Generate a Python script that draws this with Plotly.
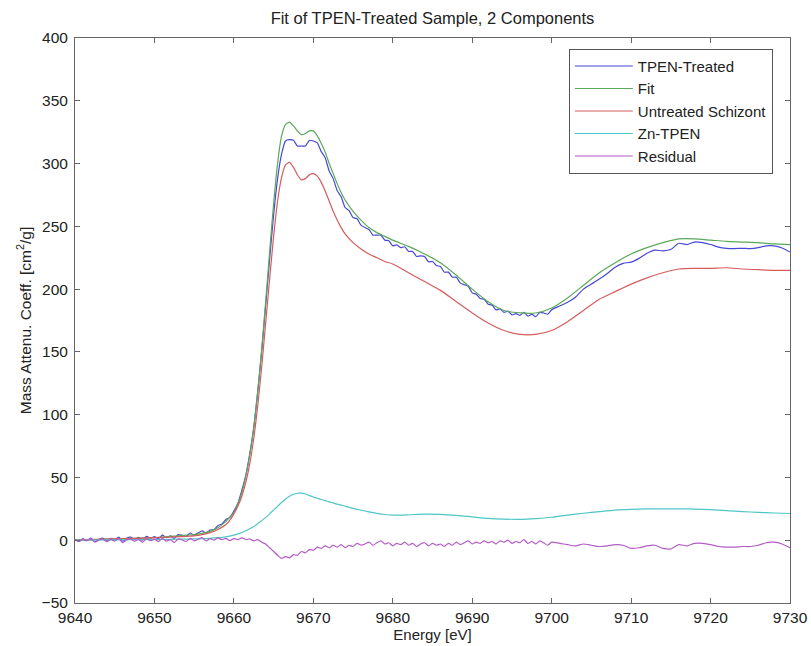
import plotly.graph_objects as go

# ---- Smooth series grid (eV) ----
E_smooth = [9640, 9645, 9650, 9652, 9654, 9655, 9656, 9657, 9658, 9659,
            9659.5, 9660, 9660.5, 9661, 9661.5, 9662, 9662.5, 9663, 9663.5, 9664,
            9664.5, 9665, 9665.5, 9666, 9666.5, 9667, 9667.5, 9668, 9668.5, 9669,
            9669.5, 9670, 9670.5, 9671, 9671.5, 9672, 9672.5, 9673, 9673.5, 9674,
            9675, 9676, 9677, 9678, 9679, 9680, 9682, 9684, 9686, 9688,
            9690, 9692, 9694, 9696, 9698, 9700, 9702, 9704, 9706, 9708,
            9710, 9712, 9714, 9716, 9718, 9720, 9722, 9724, 9726, 9728,
            9730]

untreated = [0, 1, 2, 2.5, 3, 3.5, 4.5, 6, 8.5, 12.5,
             16, 21, 27, 35, 46, 61, 81, 107, 138, 173,
             208, 242, 270, 289, 299, 301, 297, 291, 287, 288,
             291, 292, 290, 285, 278, 270, 262, 255, 249, 244,
             237, 232, 228, 225, 222, 220, 213, 206, 199, 190,
             181, 173, 167, 164, 164, 167, 174, 183, 192, 198,
             204, 209, 213, 216, 216.5, 216.5, 217, 216, 215.5, 215,
             215]

zn_tpen = [0, 0.3, 0.5, 0.7, 0.9, 1, 1.2, 1.5, 2, 2.7,
           3.2, 4, 5, 6.2, 7.6, 9.2, 11, 13.2, 15.6, 18.2,
           21, 24, 27, 30, 32.8, 35, 36.6, 37.4, 37.5, 36.8,
           35.6, 34.4, 33.4, 32.4, 31.5, 30.6, 29.7, 28.8, 28, 27.1,
           25.4, 24, 22.6, 21.4, 20.5, 20, 20.3, 20.8, 20.6, 19.8,
           18.6, 17.4, 16.8, 16.6, 17.2, 18.3, 20, 21.5, 22.8, 24,
           24.6, 24.9, 25, 25, 24.8, 24.3, 23.6, 22.8, 22.2, 21.7,
           21.3]

fit = [0, 1, 2, 3, 4, 4.5, 5.5, 7, 10, 15,
       18.5, 22, 29, 38, 51, 68, 90, 118, 152, 190,
       230, 268, 300, 322, 331, 333, 330, 326, 323, 324,
       326, 326, 322, 316, 309, 300, 292, 284, 277, 271,
       262, 255, 249, 245, 242, 239, 234, 228, 221, 211,
       200, 190, 183, 181, 181, 185, 193, 203, 213, 221,
       228, 233, 237, 240, 240, 239, 238, 237.5, 237, 236,
       235.5]

# ---- Noisy series grid (eV) ----
E_noisy = [9640, 9640.5, 9641, 9641.5, 9642, 9642.5, 9643, 9643.5, 9644, 9644.5,
           9645, 9645.5, 9646, 9646.5, 9647, 9647.5, 9648, 9648.5, 9649, 9649.5,
           9650, 9650.5, 9651, 9651.5, 9652, 9652.5, 9653, 9653.5, 9654, 9654.5,
           9655, 9655.5, 9656, 9656.5, 9657, 9657.5, 9658, 9658.5, 9659, 9659.5,
           9660, 9660.5, 9661, 9661.5, 9662, 9662.5, 9663, 9663.5, 9664, 9664.5,
           9665, 9665.5, 9666, 9666.5, 9667, 9667.5, 9668, 9668.5, 9669, 9669.5,
           9670, 9670.5, 9671, 9671.5, 9672, 9672.5, 9673, 9673.5, 9674, 9674.5,
           9675, 9675.5, 9676, 9676.5, 9677, 9677.5, 9678, 9678.5, 9679, 9679.5,
           9680, 9680.5, 9681, 9681.5, 9682, 9682.5, 9683, 9683.5, 9684, 9684.5,
           9685, 9685.5, 9686, 9686.5, 9687, 9687.5, 9688, 9688.5, 9689, 9689.5,
           9690, 9690.5, 9691, 9691.5, 9692, 9692.5, 9693, 9693.5, 9694, 9694.5,
           9695, 9695.5, 9696, 9696.5, 9697, 9697.5, 9698, 9698.5, 9699, 9699.5,
           9700,
           9701, 9702, 9703, 9704, 9705, 9706, 9707, 9708, 9709, 9710,
           9711, 9712, 9713, 9714, 9715, 9716, 9717, 9718, 9719, 9720,
           9721, 9722, 9723, 9724, 9725, 9726, 9727, 9728, 9729, 9730]

tpen_treated = [0.5, -0.9, 1.0, -0.2, 1.6, -1.0, 0.6, 1.7, -0.4, 1.5,
                0.2, 2.5, -0.8, 1.6, 2.5, 0.6, 2.3, 0.1, 3.1, 1.5,
                2.9, 1.15, 4.1, 2.05, 3.4, 1.45, 4.5, 3.95, 3.0, 5.75,
                4.0, 5.8, 7.5, 5.6, 8.2, 8.5, 11.8, 12.9, 16.5, 18.2,
                23.2, 29.5, 39.8, 51.6, 69, 89.5, 118.5, 150.5, 187, 224,
                259, 288, 307.5, 318, 319, 318.5, 314, 314, 314, 318.5,
                318, 316.5, 309.5, 304.5, 294, 288, 278.5, 273.5, 265, 262.5,
                257, 256, 251, 249, 247.5, 243, 243, 243, 239, 238.5,
                234.5, 235.25, 233, 233.75, 230, 230, 226, 226.5, 226, 221.75,
                222, 218.75, 218, 213.5, 213.5, 209.5, 209.5, 204.75, 203.5, 202.25,
                197, 196, 192.5, 192, 188, 187.25, 183.5, 184.25, 181.5, 182.5,
                179.5, 180.5, 179, 181.5, 178.5, 180, 178, 181.5, 181, 180,
                183.5,
                186.5, 189.5, 193.5, 200, 204, 208, 212.5, 217.5, 220.5, 221.5,
                224.5, 228.5, 231, 230.5, 231.5, 236.5, 235.5, 237.5, 237, 235.5,
                233.5, 232.5, 232.25, 232.5, 232.25, 233, 234.5, 234.5, 232.75, 229.5]

residual = [0.5, -1, 0.8, -0.5, 1.2, -1.5, 0, 1, -1.2, 0.6,
            -0.8, 1.4, -2, 0.3, 1.1, -0.9, 0.7, -1.6, 1.3, -0.4,
            0.9, -1.1, 1.6, -0.7, 0.4, -1.8, 1, 0.2, -1, 1.5,
            -0.5, 0.8, 2, -0.6, 1.2, 0, 1.8, 0.4, 1.5, -0.3,
            1.2, 0.5, 1.8, 0.6, 1, -0.5, 0.5, -1.5, -3, -6,
            -9, -12, -14.5, -13, -14, -11.5, -12, -9, -10, -7.5,
            -8, -5.5, -6.5, -4.5, -6, -4, -5.5, -3.5, -6, -4,
            -5, -2.5, -4, -3, -1.5, -4, -2, -0.5, -3, -2,
            -4.5, -2.5, -3.5, -1.5, -4, -2.5, -5, -3, -2, -4.5,
            -2.5, -4, -3, -5, -2.5, -4, -1.5, -3.5, -2, -0.5,
            -3, -1.5, -2.5, -0.5, -2, -1, -3, -0.5, -1.5, 0,
            -2.5, -1, -2, 0.5, -2.5, -1, -3, -0.5, -2, -4,
            -1.5,
            -2.5, -3.5, -4.5, -3, -4, -5, -4.5, -3.5, -4, -6.5,
            -6, -4.5, -4, -6.5, -7, -3.5, -4.5, -2.5, -2.5, -3.5,
            -5, -5.5, -5.5, -5, -5, -4, -2, -1.5, -3, -6]

x_ticks = [9640, 9650, 9660, 9670, 9680, 9690, 9700, 9710, 9720, 9730]
y_ticks = [-50, 0, 50, 100, 150, 200, 250, 300, 350, 400]

series = [
    ("TPEN-Treated", E_noisy, tpen_treated, "#4848d6"),
    ("Fit", E_smooth, fit, "#5aa85a"),
    ("Untreated Schizont", E_smooth, untreated, "#d65c5c"),
    ("Zn-TPEN", E_smooth, zn_tpen, "#4ec6c6"),
    ("Residual", E_noisy, residual, "#b45cc6"),
]

fig = go.Figure()
for name, xs, ys, col in series:
    fig.add_trace(go.Scatter(x=xs, y=ys, mode="lines", name=name,
                             line=dict(color=col, width=1.2, shape="spline", smoothing=0.6)))

axis_common = dict(showline=True, linecolor="#666666", linewidth=1, mirror="ticks",
                   ticks="inside", ticklen=5, tickcolor="#666666", showgrid=False,
                   zeroline=False, tickfont=dict(size=15.5, color="#222222"),
                   automargin=False)

fig.update_layout(
    width=811, height=646,
    margin=dict(l=75, r=21, t=38, b=43),
    paper_bgcolor="white", plot_bgcolor="white",
    font=dict(family="Liberation Sans, Arial, sans-serif", size=15, color="#222222"),
    title=dict(text="Fit of TPEN-Treated Sample, 2 Components", x=0.5, xref="paper",
               y=1 - 18 / 646, yref="container", yanchor="middle", xanchor="center",
               font=dict(size=16.5, color="#222222")),
    xaxis=dict(range=[9640, 9730], tickvals=x_ticks,
               title=dict(text="Energy [eV]", standoff=3, font=dict(size=15)), **axis_common),
    yaxis=dict(range=[-50, 400], tickvals=y_ticks, ticklabelstandoff=3,
               title=dict(text="Mass Attenu. Coeff. [cm<sup>2</sup>/g]", standoff=6, font=dict(size=15.5)),
               **axis_common),
    legend=dict(x=0.976, y=0.981, xanchor="right", yanchor="top",
                bgcolor="white", bordercolor="#555555", borderwidth=1,
                font=dict(size=15, color="#222222"), itemwidth=58),
    showlegend=True,
)

fig.write_html("out.html")
